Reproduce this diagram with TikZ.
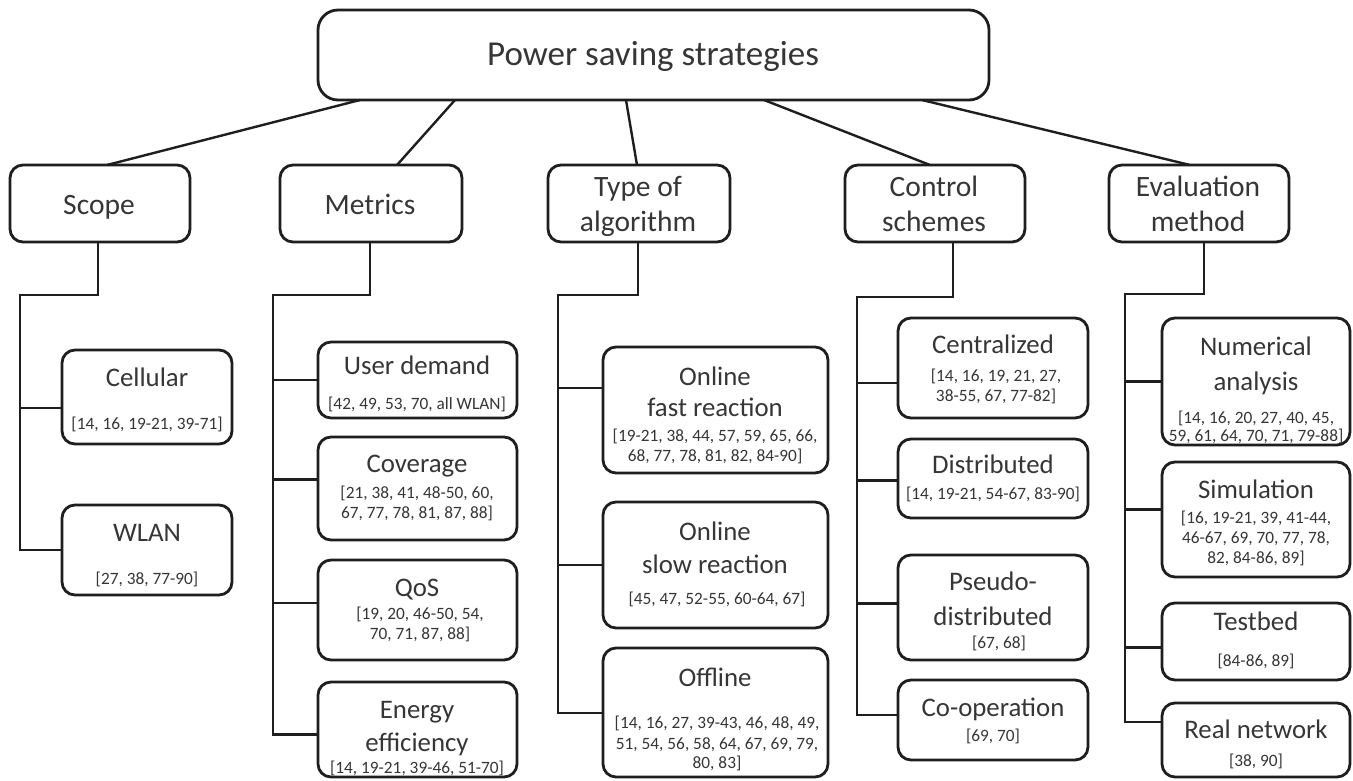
\documentclass[tikz,border=0pt]{standalone}
\usepackage{fontspec}
\setmainfont{Carlito}
\definecolor{linec}{HTML}{1E1E1E}
\definecolor{txtc}{HTML}{363636}
\newcommand\bx[6][13pt]{\node[box, rounded corners=#1, minimum width={(#5-#3)*1pt}, minimum height={(#6-#4)*1pt}] (#2) at ({(#3+#5)/2},{(#4+#6)/2}) {};}
\newcommand\tx[5]{\node[#2] (#1) at (#3,#4) {#5};}
\newcommand\leafbr[3]{\coordinate (#1P) at ([yshift=#3]#1.west); \draw[conn] (#2 |- #1P) -- (#1P);}
\begin{document}
\begin{tikzpicture}[x=1pt,y=-1pt,
  box/.style={draw=linec, line width=2.8pt, fill=white, inner sep=0pt, outer sep=0pt},
  conn/.style={draw=linec, line width=2.4pt},
  txtbase/.style={inner sep=0pt, anchor=center, text=txtc, text depth=0pt},
  roott/.style={txtbase, text height=20pt, font=\fontsize{35}{40}\selectfont},
  lvt/.style={txtbase, text height=18pt, font=\fontsize{29.5}{34}\selectfont},
  ttl/.style={txtbase, text height=16pt, font=\fontsize{26.8}{31}\selectfont},
  cit/.style={txtbase, text height=13.5pt, font=\fontsize{17.3}{19}\selectfont}]
\useasboundingbox (0,0) rectangle (1353,780);
\fill[white] (0,0) rectangle (1353,780);

% root
\bx[20pt]{root}{318}{10}{989}{100}
\tx{troot}{roott}{653}{55}{Power saving strategies}

% level 1
\bx{scope}{10}{165}{190}{242}
\bx{metrics}{280}{165}{462}{242}
\bx{type}{548}{165}{730}{242}
\bx{control}{845}{165}{1025}{242}
\bx{eval}{1109}{165}{1289}{242}
\tx{tscope}{lvt}{99}{205}{Scope}
\tx{tmetrics}{lvt}{370}{205}{Metrics}
\tx{ttype1}{lvt}{638}{187}{Type of}
\tx{ttype2}{lvt}{638}{222}{algorithm}
\tx{tcontrol1}{lvt}{934}{187}{Control}
\tx{tcontrol2}{lvt}{934}{222}{schemes}
\tx{teval1}{lvt}{1198}{187}{Evaluation}
\tx{teval2}{lvt}{1198}{222}{method}

% root connectors
\draw[conn] ([xshift=-293.5pt]root.south) -- ([xshift=7pt]scope.north);
\draw[conn] ([xshift=-198.5pt]root.south) -- ([xshift=26pt]metrics.north);
\draw[conn] ([xshift=-27.5pt]root.south) -- ([xshift=-2pt]type.north);
\draw[conn] ([xshift=110.5pt]root.south) -- ([xshift=-5pt]control.north);
\draw[conn] ([xshift=268.5pt]root.south) -- ([xshift=-9pt]eval.north);

% Scope leaves
\bx{cell}{62}{350}{232}{444}
\tx{tcell}{ttl}{147}{378}{Cellular}
\tx{ccell}{cit}{147}{423}{[14, 16, 19-21, 39-71]}
\bx{wlan}{62}{505}{232}{595}
\tx{twlan}{ttl}{147}{533}{WLAN}
\tx{cwlan}{cit}{147}{578}{[27, 38, 77-90]}

% Metrics leaves
\bx{ud}{318}{342}{517}{418}
\tx{tud}{ttl}{417}{366}{User demand}
\tx{cud}{cit}{417}{403}{[42, 49, 53, 70, all WLAN]}
\bx{cov}{318}{437}{517}{540}
\tx{tcov}{ttl}{417}{464}{Coverage}
\tx{ccov1}{cit}{417}{492}{[21, 38, 41, 48-50, 60,}
\tx{ccov2}{cit}{417}{512}{67, 77, 78, 81, 87, 88]}
\bx{qos}{318}{560}{517}{660}
\tx{tqos}{ttl}{417}{588}{QoS}
\tx{cqos1}{cit}{420}{613}{[19, 20, 46-50, 54,}
\tx{cqos2}{cit}{420}{633}{70, 71, 87, 88]}
\bx{ee}{318}{682}{517}{777}
\tx{tee1}{ttl}{417}{710}{Energy}
\tx{tee2}{ttl}{417}{743}{efficiency}
\tx{cee}{cit}{417}{767}{[14, 19-21, 39-46, 51-70]}

% Type leaves
\bx{of}{603}{347}{828}{473}
\tx{tof1}{ttl}{715}{377}{Online}
\tx{tof2}{ttl}{715}{408}{fast reaction}
\tx{cof1}{cit}{715}{435}{[19-21, 38, 44, 57, 59, 65, 66,}
\tx{cof2}{cit}{715}{455}{68, 77, 78, 81, 82, 84-90]}
\bx{os}{603}{502}{828}{628}
\tx{tos1}{ttl}{715}{532}{Online}
\tx{tos2}{ttl}{715}{565}{slow reaction}
\tx{cos}{cit}{717}{598}{[45, 47, 52-55, 60-64, 67]}
\bx{off}{603}{648}{828}{777}
\tx{toff}{ttl}{715}{678}{Offline}
\tx{coff1}{cit}{717}{722}{[14, 16, 27, 39-43, 46, 48, 49,}
\tx{coff2}{cit}{717}{743}{51, 54, 56, 58, 64, 67, 69, 79,}
\tx{coff3}{cit}{717}{762}{80, 83]}

% Control leaves
\bx{cen}{898}{318}{1088}{418}
\tx{tcen}{ttl}{993}{345}{Centralized}
\tx{ccen1}{cit}{996}{375}{[14, 16, 19, 21, 27,}
\tx{ccen2}{cit}{996}{395}{38-55, 67, 77-82]}
\bx{dis}{898}{439}{1088}{518}
\tx{tdis}{ttl}{993}{465}{Distributed}
\tx{cdis}{cit}{993}{493}{[14, 19-21, 54-67, 83-90]}
\bx{pse}{898}{555}{1088}{660}
\tx{tpse1}{ttl}{993}{582}{Pseudo-}
\tx{tpse2}{ttl}{993}{617}{distributed}
\tx{cpse}{cit}{999}{642}{[67, 68]}
\bx{coop}{898}{680}{1088}{760}
\tx{tcoop}{ttl}{993}{708}{Co-operation}
\tx{ccoop}{cit}{993}{735}{[69, 70]}

% Evaluation leaves
\bx{num}{1162}{318}{1350}{445}
\tx{tnum1}{ttl}{1256}{347}{Numerical}
\tx{tnum2}{ttl}{1256}{382}{analysis}
\tx{cnum1}{cit}{1256}{417}{[14, 16, 20, 27, 40, 45,}
\tx{cnum2}{cit}{1256}{435}{59, 61, 64, 70, 71, 79-88]}
\bx{sim}{1162}{462}{1350}{577}
\tx{tsim}{ttl}{1256}{490}{Simulation}
\tx{csim1}{cit}{1256}{517}{[16, 19-21, 39, 41-44,}
\tx{csim2}{cit}{1256}{537}{46-67, 69, 70, 77, 78,}
\tx{csim3}{cit}{1256}{557}{82, 84-86, 89]}
\bx{test}{1162}{603}{1350}{680}
\tx{ttest}{ttl}{1256}{622}{Testbed}
\tx{ctest}{cit}{1256}{660}{[84-86, 89]}
\bx{real}{1162}{703}{1350}{777}
\tx{treal}{ttl}{1256}{730}{Real network}
\tx{creal}{cit}{1256}{760}{[38, 90]}

% bus coordinates
\coordinate (scB) at (20,295);
\coordinate (meB) at (273,295);
\coordinate (tyB) at (558,295);
\coordinate (coB) at (857,297);
\coordinate (evB) at (1125,294);

% Scope tree
\draw[conn] ([xshift=-2pt]scope.south) |- (scB) |- (wlan.west);
\leafbr{cell}{scB}{-11pt}
% Metrics tree
\draw[conn] ([xshift=-1pt]metrics.south) |- (meB) |- ([yshift=-5pt]ee.west);
\leafbr{ud}{meB}{0pt}
\leafbr{cov}{meB}{9pt}
\leafbr{qos}{meB}{7pt}
% Type tree
\draw[conn] ([xshift=-1pt]type.south) |- (tyB) |- ([yshift=-0.5pt]off.west);
\leafbr{of}{tyB}{22pt}
\leafbr{os}{tyB}{0pt}
% Control tree
\draw[conn] ([xshift=18pt]control.south) |- (coB) |- ([yshift=5pt]coop.west);
\leafbr{cen}{coB}{-15pt}
\leafbr{dis}{coB}{-2pt}
\leafbr{pse}{coB}{4pt}
% Evaluation tree
\draw[conn] ([xshift=5pt]eval.south) |- (evB) |- ([yshift=18pt]real.west);
\leafbr{num}{evB}{0pt}
\leafbr{sim}{evB}{10pt}
\leafbr{test}{evB}{-6pt}
\end{tikzpicture}
\end{document}
